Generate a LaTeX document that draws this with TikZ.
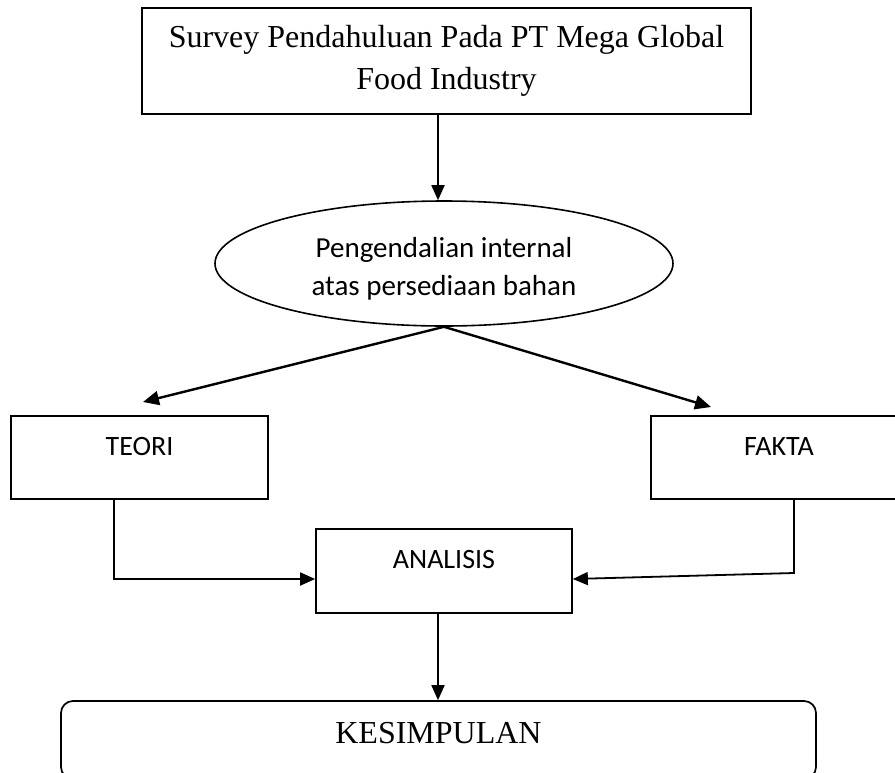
\documentclass[tikz,border=0pt]{standalone}
\usepackage{fontspec}
\setmainfont{Liberation Serif}
\newfontfamily\calibrifont{Carlito}
\usetikzlibrary{arrows.meta,shapes.geometric}
\begin{document}
\begin{tikzpicture}[x=1pt,y=-1pt,
  box/.style={draw,line width=1.7pt,inner sep=0pt},
  ellbox/.style={draw,ellipse,line width=1.6pt,inner sep=0pt},
  conn/.style={line width=1.8pt,-{Triangle[length=15pt,width=13pt]}},
  thickconn/.style={line width=2.4pt,-{Triangle[length=16pt,width=14pt]}},
  serifbig/.style={font=\fontsize{32}{42}\selectfont},
  sanstext/.style={font=\calibrifont\fontsize{28}{34}\selectfont}]
\clip (0,0) rectangle (895,772);
\fill[white] (0,0) rectangle (895,772);

\node[box,serifbig,align=center,minimum width=609pt,minimum height=106pt] (top) at (446.5,61)
  {Survey Pendahuluan Pada PT Mega Global\\Food Industry};

\node[ellbox,align=center,font=\calibrifont\fontsize{29}{38}\selectfont,
  minimum width=458pt,minimum height=125pt] (ell) at (444,263.5)
  {\rule{0pt}{31pt}Pengendalian internal\\atas persediaan bahan};

\node[box,sanstext,minimum width=257pt,minimum height=83pt,text height=18pt,text depth=23pt] (teori) at (139.5,457.5) {TEORI};
\node[box,sanstext,minimum width=256pt,minimum height=83pt,text height=18pt,text depth=23pt] (fakta) at (779,457.5) {FAKTA};
\node[box,sanstext,minimum width=256pt,minimum height=84pt,text height=18pt,text depth=24pt] (ana) at (444,571) {ANALISIS};
\node[box,rounded corners=12pt,font=\fontsize{32}{38}\selectfont,minimum width=755pt,minimum height=78pt,text height=21pt,text depth=15pt] (kes) at (438.5,740) {KESIMPULAN};

\coordinate (c1) at (438,114);
\coordinate (tl) at (143,402);
\coordinate (tr) at (711,407);
\coordinate (tc) at (114,579);
\coordinate (fc) at (794,573);
\coordinate (c2) at (438,613);

\draw[conn] (c1) -- (c1 |- ell.north);
\draw[thickconn] (ell.south) -- (tl);
\draw[thickconn] (ell.south) -- (tr);
\draw[conn] (tc |- teori.south) -- (tc) -- (tc -| ana.west);
\draw[conn] (fc |- fakta.south) -- (fc) -- (ana.east |- tc);
\draw[conn] (c2) -- (c2 |- kes.north);
\end{tikzpicture}
\end{document}
